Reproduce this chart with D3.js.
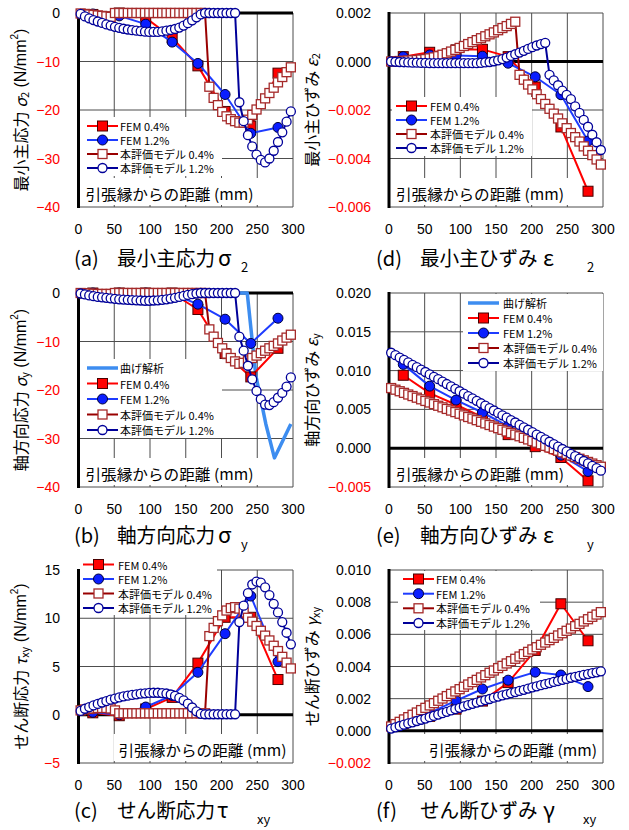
<!DOCTYPE html>
<html>
<head>
<meta charset="utf-8">
<script src="https://cdn.jsdelivr.net/npm/d3@7"></script>
<style>
  body { margin: 0; background: #fff; }
  svg { display: block; font-family: "Noto Sans CJK JP", sans-serif; }
  .num { font-family: "Liberation Sans", Arial, sans-serif; }
</style>
</head>
<body>
<svg id="chart" width="629" height="830"></svg>
<script>
// ---- data ----
var xTicks = [0, 50, 100, 150, 200, 250, 300];
var xFem = [20, 57, 94, 131, 167, 205, 241, 279];
var xModel = [3, 9, 15, 21, 27, 33, 39, 45, 51, 57, 63, 69, 75, 81, 87, 93, 99, 105, 111, 117,
  123, 129, 135, 141, 147, 153, 159, 165, 171, 177, 183, 189, 195, 201, 207, 213, 219, 225, 231, 237,
  243, 249, 255, 261, 267, 273, 279, 285, 291, 297];

// tick values / labels (strain values are in units of 1e-3)
var stressTicks = [0, -10, -20, -30, -40];
var stressTickText = ["0", "−10", "−20", "−30", "−40"];
var e2Ticks = [2, 0, -2, -4, -6];
var e2TickText = ["0.002", "0.000", "−0.002", "−0.004", "−0.006"];
var eyTicks = [20, 15, 10, 5, 0, -5];
var eyTickText = ["0.020", "0.015", "0.010", "0.005", "0.000", "−0.005"];
var tauTicks = [15, 10, 5, 0, -5];
var tauTickText = ["15", "10", "5", "0", "−5"];
var gxTicks = [10, 8, 6, 4, 2, 0, -2];
var gxTickText = ["0.010", "0.008", "0.006", "0.004", "0.002", "0.000", "−0.002"];

// (a) minimum principal stress
var s2Fem04 = [-0.3, 0, -1.0, -5.1, -10.9, -20.3, -23.3, -12.4];
var s2Fem12 = [-0.2, -0.6, -2.3, -6.0, -10.4, -16.8, -24.8, -23.6];
var s2Mod04 = [-0.1, -0.2, -0.3, -0.4, -0.5, -0.6, -0.7, -0.8,
  0, 0, 0, 0, 0, 0, 0, 0, 0, 0, 0, 0, 0, 0, 0, 0, 0, 0, 0, 0, 0, 0,
  -15.2, -17.5, -19.0, -20.4, -21.3, -21.9, -22.3, -22.6, -22.6, -22.0, -21.0, -19.9, -18.8, -17.6,
  -16.5, -15.4, -14.3, -13.2, -12.2, -11.2];
var s2Mod12 = [-0.2, -0.7, -1.1, -1.45, -1.75, -2.05, -2.35, -2.6, -2.85, -3.05, -3.25, -3.4, -3.55,
  -3.65, -3.75, -3.85, -3.9, -3.9, -3.9, -3.8, -3.65, -3.5, -3.3, -3.0, -2.6, -2.1, -1.5, -0.9, -0.3,
  0, 0, 0, 0, 0, 0, 0, 0,
  -18.4, -22.3, -25.2, -27.5, -29.2, -30.3, -30.8, -30.0, -28.4, -26.6, -24.6, -22.4, -20.3];

// (d) minimum principal strain (x1e-3)
var e2Fem04 = [0.2, 0.38, 0.48, 0.5, 0.2, -1.05, -2.7, -5.35];
var e2Fem12 = [0.2, 0.27, 0.25, 0.22, -0.07, -0.63, -1.37, -3.28];
var e2Mod04 = [0.0, 0.01, 0.02, 0.03, 0.04, 0.05, 0.06, 0.08, 0.10, 0.13, 0.17, 0.22, 0.28, 0.34, 0.41,
  0.48, 0.56, 0.64, 0.72, 0.80, 0.88, 0.96, 1.04, 1.12, 1.20, 1.29, 1.38, 1.46, 1.55, 1.64,
  -0.55, -0.75, -0.95, -1.15, -1.35, -1.55, -1.75, -1.95, -2.15, -2.35, -2.55, -2.75, -2.95, -3.12,
  -3.30, -3.50, -3.68, -3.86, -4.04, -4.25];
var e2Mod12 = [0.0, -0.01, -0.02, -0.03, -0.04, -0.05, -0.05, -0.06, -0.06, -0.07,
  -0.07, -0.07, -0.07, -0.07, -0.07, -0.07, -0.07, -0.07, -0.07, -0.07, -0.07,
  -0.06, -0.04, -0.02, 0.01, 0.05, 0.10, 0.16, 0.23, 0.30, 0.37, 0.44, 0.52, 0.59, 0.66, 0.72, 0.77,
  -0.55, -0.78, -0.98, -1.2, -1.38, -1.55, -1.85, -2.12, -2.41, -2.69, -3.02, -3.33, -3.65];

// (b) axial stress
var syFem04 = [0, 0, 0, 0, -3.4, -12.5, -17.3, -11.4];
var syFem12 = [0, 0, 0, -0.2, -2.3, -5.4, -10.4, -5.2];
var syMod04 = [0, -0.05, -0.1, -0.15, -0.2, -0.2, -0.2, -0.2,
  0, 0, 0, 0, 0, 0, 0, 0, 0, 0, 0, 0, 0, 0, 0, 0, 0, 0, 0, 0, 0, 0,
  -7.5, -9.0, -10.3, -11.4, -12.5, -13.4, -14.1, -14.6, -14.4, -13.9, -13.4, -12.9, -12.4, -11.9,
  -11.4, -10.9, -10.4, -9.8, -9.2, -8.6];
var syMod12 = [-0.1, -0.3, -0.5, -0.65, -0.8, -0.9, -1.0, -1.1, -1.2, -1.3, -1.35, -1.4, -1.45, -1.5,
  -1.55, -1.6, -1.6, -1.55, -1.5, -1.4, -1.3, -1.15, -1.0, -0.8, -0.6, -0.4, -0.25, -0.1, 0, 0,
  0, 0, 0, 0, 0, 0, 0,
  -9.0, -11.9, -15.0, -17.8, -20.2, -21.9, -23.0, -23.1, -22.5, -21.6, -20.6, -19.3, -17.4];
var bendX = [0, 236, 248, 262, 274, 297];
var syBend = [0, 0, -17, -27, -34, -27];

// (e) axial strain (x1e-3)
var eyFem04 = [9.4, 7.1, 5.6, 4.0, 1.75, 0.2, -1.2, -4.2];
var eyFem12 = [10.8, 8.0, 6.2, 4.6, 2.85, 0.9, -0.9, -3.0];
var eyMod04 = [7.75, 7.54, 7.34, 7.13, 6.92, 6.72, 6.51, 6.30, 6.09, 5.89, 5.68, 5.47, 5.27, 5.06, 4.85,
  4.65, 4.44, 4.23, 4.02, 3.82, 3.61, 3.40, 3.20, 2.99, 2.78, 2.58, 2.37, 2.16, 1.95, 1.75, 1.54, 1.33,
  1.13, 0.92, 0.71, 0.51, 0.30, 0.09, -0.12, -0.32, -0.53, -0.74, -0.94, -1.15, -1.36, -1.56, -1.77,
  -1.98, -2.19, -2.39];
var eyMod12 = [12.30, 11.99, 11.68, 11.37, 11.06, 10.75, 10.44, 10.13, 9.82, 9.51, 9.20, 8.89, 8.58,
  8.27, 7.96, 7.65, 7.34, 7.03, 6.72, 6.41, 6.10, 5.79, 5.48, 5.17, 4.86, 4.55, 4.24, 3.93, 3.62, 3.31,
  3.00, 2.69, 2.38, 2.07, 1.76, 1.45, 1.14, 0.83, 0.52, 0.21, -0.10, -0.41, -0.72, -1.03, -1.34, -1.65,
  -1.96, -2.27, -2.58, -2.89];

// (c) shear stress
var txFem04 = [0.2, -0.1, 0.6, 1.8, 5.35, 10.1, 10.1, 3.65];
var txFem12 = [0.25, 0.0, 0.8, 2.0, 4.4, 8.4, 12.3, 5.5];
var txMod04 = [0.45, 0.55, 0.6, 0.65, 0.7, 0.7, 0.7, 0.65, 0.45,
  0.15, 0.15, 0.15, 0.15, 0.15, 0.15, 0.15, 0.15, 0.15, 0.15, 0.15, 0.15, 0.15, 0.15, 0.15, 0.15,
  0.15, 0.15, 0.15, 0.15, 0.15,
  8.15, 9.0, 9.7, 10.3, 10.8, 11.05, 11.15, 11.0, 10.6, 10.05, 9.65, 9.2, 8.7, 8.2, 7.7, 7.15, 6.6,
  6.0, 5.4, 4.8];
var txMod12 = [0.4, 0.62, 0.8, 0.97, 1.12, 1.27, 1.42, 1.56, 1.68, 1.8, 1.9, 1.98, 2.05, 2.12, 2.18,
  2.22, 2.26, 2.28, 2.28, 2.25, 2.2, 2.1, 1.95, 1.75, 1.5, 1.15, 0.75, 0.35, 0.1, 0.05,
  0.05, 0.05, 0.05, 0.05, 0.05, 0.05, 0.05,
  9.6, 11.3, 12.6, 13.5, 13.8, 13.7, 13.2, 12.4, 11.5, 10.6, 9.6, 8.5, 7.3];

// (f) shear strain (x1e-3)
var gxFem04 = [0.45, 0.9, 1.35, 1.85, 3.0, 5.0, 7.9, 5.6];
var gxFem12 = [0.4, 1.12, 1.88, 2.6, 3.15, 3.65, 3.47, 2.75];
var gxMod04 = [0.27, 0.42, 0.56, 0.71, 0.85, 1.00, 1.14, 1.29, 1.43, 1.58, 1.72, 1.87, 2.01, 2.16, 2.30,
  2.45, 2.59, 2.74, 2.88, 3.03, 3.17, 3.32, 3.46, 3.61, 3.75, 3.90, 4.04, 4.19, 4.33, 4.48, 4.62, 4.77,
  4.91, 5.06, 5.20, 5.35, 5.49, 5.64, 5.78, 5.93, 6.07, 6.22, 6.36, 6.51, 6.65, 6.80, 6.94, 7.09, 7.23,
  7.38];
var gxMod12 = [0.14, 0.22, 0.30, 0.38, 0.46, 0.53, 0.61, 0.69, 0.76, 0.85, 0.93, 1.01, 1.10, 1.18, 1.27,
  1.35, 1.43, 1.52, 1.60, 1.68, 1.76, 1.83, 1.91, 1.98, 2.06, 2.13, 2.20, 2.27, 2.34, 2.41, 2.48, 2.55,
  2.63, 2.70, 2.77, 2.84, 2.90, 2.97, 3.04, 3.10, 3.17, 3.23, 3.30, 3.36, 3.42, 3.48, 3.53, 3.59, 3.64,
  3.70];

var legendNames = ["FEM 0.4%", "FEM 1.2%", "本評価モデル 0.4%", "本評価モデル 1.2%"];
var bendName = "曲げ解析";
var xAxisName = "引張縁からの距離 (mm)";

// ---- styles ----
var styles = {
  bend:  { line: "#3d8df0", lw: 3.5 },
  fem04: { line: "#ff0000", lw: 2, mark: "square", size: 10, fill: "#ff0000", stroke: "#4a0000", sw: 1 },
  fem12: { line: "#1e3cff", lw: 2, mark: "circle", size: 10, fill: "#0a1eff", stroke: "#00003a", sw: 1 },
  mod04: { line: "#990000", lw: 2, mark: "square", size: 9, fill: "#fff", stroke: "#a52a2a", sw: 1.3 },
  mod12: { line: "#000099", lw: 2, mark: "circle", size: 9, fill: "#fff", stroke: "#000099", sw: 1.3 }
};
var order = ["fem04", "fem12", "mod04", "mod12"];

var cols = [
  { x0: 78.5, x1: 293, tickX: 60, labelX: 20, capA: 74, capM: 117 },
  { x0: 389, x1: 603, tickX: 371, labelX: 311, capA: 376, capM: 420 }
];
var rows = [{ top: 13, bottom: 207, capY: 266 }, { top: 293, bottom: 487, capY: 543 },
  { top: 570, bottom: 763, capY: 818 }];

var panels = [
  { col: 0, row: 0, dom: [-40, 0], ticks: stressTicks, tickText: stressTickText,
    ylab: [{ t: "最小主応力 " }, { t: "σ", it: 1 }, { t: "2", size: 11, shift: 4 }, { t: " (N/mm", num: 1 }, { t: "2", size: 10, shift: -6, num: 1 }, { t: ")", num: 1 }],
    cap: ["(a)", "最小主応力", "σ", "2", 218, 241], xlRight: false,
    leg: { x: 80, y: 117, w: 142, h: 59, sx: 87, tx: 120, rows: [126, 140, 154, 168] },
    data: { fem04: s2Fem04, fem12: s2Fem12, mod04: s2Mod04, mod12: s2Mod12 } },
  { col: 1, row: 0, dom: [-6, 2], ticks: e2Ticks, tickText: e2TickText,
    ylab: [{ t: "最小主ひずみ " }, { t: "ε", it: 1 }, { t: "2", size: 11, shift: 4 }],
    cap: ["(d)", "最小主ひずみ", "ε", "2", 543, 587], xlRight: false,
    leg: { x: 392, y: 97, w: 140, h: 59, sx: 396, tx: 430, rows: [106, 120, 134, 148] },
    data: { fem04: e2Fem04, fem12: e2Fem12, mod04: e2Mod04, mod12: e2Mod12 } },
  { col: 0, row: 1, dom: [-40, 0], ticks: stressTicks, tickText: stressTickText,
    ylab: [{ t: "軸方向応力 " }, { t: "σ", it: 1 }, { t: "y", size: 11, shift: 4 }, { t: " (N/mm", num: 1 }, { t: "2", size: 10, shift: -6, num: 1 }, { t: ")", num: 1 }],
    cap: ["(b)", "軸方向応力", "σ", "y", 218, 241], xlRight: false, bend: syBend,
    leg: { x: 80, y: 359, w: 142, h: 79, sx: 87, tx: 120, rows: [368, 383.5, 399, 414.5, 430] },
    data: { fem04: syFem04, fem12: syFem12, mod04: syMod04, mod12: syMod12 } },
  { col: 1, row: 1, dom: [-5, 20], ticks: eyTicks, tickText: eyTickText,
    ylab: [{ t: "軸方向ひずみ " }, { t: "ε", it: 1 }, { t: "y", size: 11, shift: 4 }],
    cap: ["(e)", "軸方向ひずみ", "ε", "y", 543, 587], xlRight: false, bendLegendOnly: true,
    leg: { x: 463, y: 294, w: 140, h: 77, sx: 468, tx: 503, rows: [303, 318, 333, 348, 363] },
    data: { fem04: eyFem04, fem12: eyFem12, mod04: eyMod04, mod12: eyMod12 } },
  { col: 0, row: 2, dom: [-5, 15], ticks: tauTicks, tickText: tauTickText,
    ylab: [{ t: "せん断応力 " }, { t: "τ", it: 1 }, { t: "xy", size: 11, shift: 4 }, { t: " (N/mm", num: 1 }, { t: "2", size: 10, shift: -6, num: 1 }, { t: ")", num: 1 }],
    cap: ["(c)", "せん断応力", "τ", "xy", 217, 257], xlRight: true,
    leg: { x: 80, y: 556, w: 137, h: 59, sx: 83, tx: 118, rows: [564.5, 579, 593.5, 608] },
    data: { fem04: txFem04, fem12: txFem12, mod04: txMod04, mod12: txMod12 } },
  { col: 1, row: 2, dom: [-2, 10], ticks: gxTicks, tickText: gxTickText,
    ylab: [{ t: "せん断ひずみ " }, { t: "γ", it: 1 }, { t: "xy", size: 11, shift: 4 }],
    cap: ["(f)", "せん断ひずみ", "γ", "xy", 543, 583], xlRight: true,
    leg: { x: 398, y: 571, w: 142, h: 59, sx: 403, tx: 436, rows: [579, 593.7, 608.3, 623] },
    data: { fem04: gxFem04, fem12: gxFem12, mod04: gxMod04, mod12: gxMod12 } }
];

var svg = d3.select("#chart");

function rich(textSel, parts) {
  var cur = 0;
  parts.forEach(function (p) {
    var sp = textSel.append("tspan").text(p.t);
    var shift = p.shift || 0;
    if (shift !== cur) { sp.attr("dy", shift - cur); cur = shift; }
    if (p.size) sp.style("font-size", p.size + "px");
    if (p.it) sp.style("font-style", "italic");
    if (p.num) sp.attr("class", "num");
  });
}

function drawMarks(g, pts, st) {
  var h = st.size / 2;
  if (st.mark === "square") {
    g.selectAll(null).data(pts).enter().append("rect")
      .attr("x", function (d) { return d[0] - h; })
      .attr("y", function (d) { return d[1] - h; })
      .attr("width", st.size).attr("height", st.size)
      .attr("fill", st.fill).attr("stroke", st.stroke).attr("stroke-width", st.sw);
  } else {
    g.selectAll(null).data(pts).enter().append("circle")
      .attr("cx", function (d) { return d[0]; })
      .attr("cy", function (d) { return d[1]; })
      .attr("r", h)
      .attr("fill", st.fill).attr("stroke", st.stroke).attr("stroke-width", st.sw);
  }
}

function drawSeries(g, xs, ys, st, xS, yS) {
  var pts = xs.map(function (x, i) { return [xS(x), yS(ys[i])]; });
  g.append("path").attr("d", d3.line()(pts))
    .attr("fill", "none").attr("stroke", st.line).attr("stroke-width", st.lw)
    .attr("stroke-linejoin", "round");
  if (st.mark) drawMarks(g, pts, st);
}

panels.forEach(function (p) {
  var c = cols[p.col], r = rows[p.row];
  var xS = d3.scaleLinear().domain([0, 300]).range([c.x0, c.x1]);
  var yS = d3.scaleLinear().domain(p.dom).range([r.bottom, r.top]);
  var g = svg.append("g");

  // grid
  g.selectAll(null).data(xTicks).enter().append("line")
    .attr("x1", function (d) { return xS(d); }).attr("x2", function (d) { return xS(d); })
    .attr("y1", r.top).attr("y2", r.bottom)
    .attr("stroke", "#4d4d4d").attr("stroke-width", 1);
  g.selectAll(null).data(p.ticks).enter().append("line")
    .attr("x1", c.x0).attr("x2", c.x1)
    .attr("y1", function (d) { return yS(d); }).attr("y2", function (d) { return yS(d); })
    .attr("stroke", "#4d4d4d").attr("stroke-width", 1);

  // x axis name box inside the plot
  var bx = p.xlRight ? c.x0 + 35 : c.x0 + 2;
  g.append("rect").attr("x", bx).attr("y", r.bottom - 29).attr("width", c.x1 - bx - 1).attr("height", 27)
    .attr("fill", "#fff");
  g.append("text").attr("x", bx + 5).attr("y", r.bottom - 14)
    .attr("dominant-baseline", "central").style("font-size", "15px")
    .attr("textLength", 168).attr("lengthAdjust", "spacingAndGlyphs").text(xAxisName);

  // zero line + left axis
  g.append("line").attr("x1", c.x0).attr("x2", c.x1).attr("y1", yS(0)).attr("y2", yS(0))
    .attr("stroke", "#000").attr("stroke-width", 3);
  g.append("line").attr("x1", c.x0).attr("x2", c.x0).attr("y1", r.top - 1).attr("y2", r.bottom + 1)
    .attr("stroke", "#000").attr("stroke-width", 3);

  // tick labels
  g.selectAll(null).data(p.ticks).enter().append("text")
    .attr("class", "num").attr("x", c.tickX).attr("y", function (d) { return yS(d) + 5; })
    .attr("text-anchor", "end").style("font-size", "14px")
    .attr("fill", function (d) { return d < 0 ? "#ff0000" : "#000"; })
    .text(function (d, i) { return p.tickText[i]; });
  g.selectAll(null).data(xTicks).enter().append("text")
    .attr("class", "num").attr("x", function (d) { return xS(d); }).attr("y", r.bottom + 27)
    .attr("text-anchor", "middle").style("font-size", "14px").text(function (d) { return d; });

  // series
  if (p.bend) drawSeries(g, bendX, p.bend, styles.bend, xS, yS);
  order.forEach(function (k) {
    drawSeries(g, k.indexOf("fem") === 0 ? xFem : xModel, p.data[k], styles[k], xS, yS);
  });

  // legend
  var L = p.leg;
  g.append("rect").attr("x", L.x).attr("y", L.y).attr("width", L.w).attr("height", L.h).attr("fill", "#fff");
  var entries = [];
  if (p.bend || p.bendLegendOnly) entries.push({ k: "bend", name: bendName });
  order.forEach(function (k, i) { entries.push({ k: k, name: legendNames[i] }); });
  entries.forEach(function (e, i) {
    var y = L.rows[i], st = styles[e.k];
    g.append("line").attr("x1", L.sx).attr("x2", L.sx + 31).attr("y1", y).attr("y2", y)
      .attr("stroke", st.line).attr("stroke-width", st.lw);
    if (st.mark) drawMarks(g, [[L.sx + 15.5, y]], st);
    g.append("text").attr("x", L.tx).attr("y", y).attr("dominant-baseline", "central")
      .style("font-size", "11px").text(e.name);
  });

  // y axis title
  var t = svg.append("text")
    .attr("transform", "translate(" + c.labelX + "," + ((r.top + r.bottom) / 2) + ") rotate(-90)")
    .attr("text-anchor", "middle").attr("dominant-baseline", "central").style("font-size", "16px");
  rich(t, p.ylab);

  // caption: "(x)", name, greek letter, subscript
  var n = p.cap[1].length;
  svg.append("text").attr("x", c.capA).attr("y", r.capY).style("font-size", "20px").text(p.cap[0]);
  svg.append("text").attr("x", c.capM).attr("y", r.capY).style("font-size", "20px")
    .attr("textLength", n * 19.6).attr("lengthAdjust", "spacingAndGlyphs").text(p.cap[1]);
  svg.append("text").attr("x", p.cap[4]).attr("y", r.capY).style("font-size", "22px").text(p.cap[2]);
  svg.append("text").attr("x", p.cap[5]).attr("y", r.capY + 6).style("font-size", "13px").text(p.cap[3]);
});
</script>
</body>
</html>
